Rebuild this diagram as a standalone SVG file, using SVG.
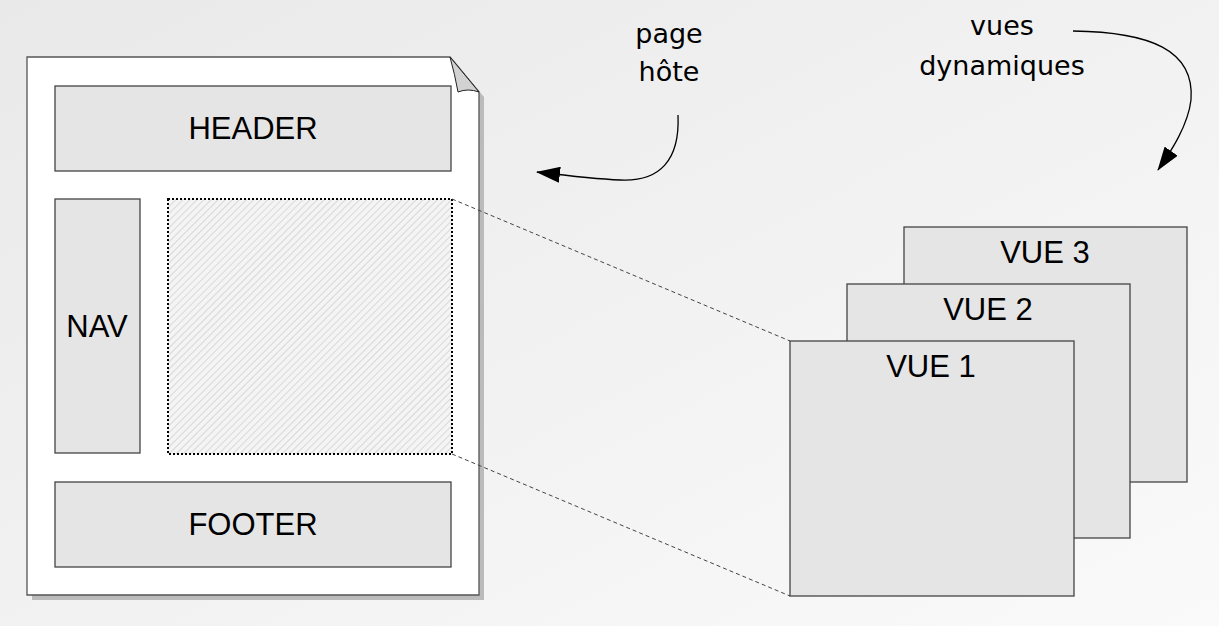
<svg xmlns="http://www.w3.org/2000/svg" width="1219" height="626" viewBox="0 0 1219 626">
<defs>
<linearGradient id="bg" x1="0" y1="0" x2="1" y2="1">
<stop offset="0" stop-color="#e9e9e9"/>
<stop offset="1" stop-color="#fafafa"/>
</linearGradient>
<pattern id="hatch" width="5" height="5" patternUnits="userSpaceOnUse" patternTransform="rotate(45)">
<rect width="5" height="5" fill="#f4f4f4"/>
<line x1="0" y1="0" x2="0" y2="5" stroke="#bdbdbd" stroke-width="1"/>
</pattern>
<marker id="arr" viewBox="0 0 24 16" refX="23" refY="8" markerWidth="24" markerHeight="16" markerUnits="userSpaceOnUse" orient="auto">
<path d="M0,0 L24,8 L0,16 Z" fill="#000"/>
</marker>
</defs>
<style>
.box{fill:#e5e5e5;stroke:#444;stroke-width:1.3}
.lbl{font-family:"Liberation Sans",Arial,sans-serif;font-size:31px;fill:#000;text-anchor:middle}
.hand{font-family:"DejaVu Sans","Noto Sans",sans-serif;font-size:27px;fill:#000;text-anchor:middle}
.conn{fill:none;stroke:#000;stroke-width:1.3}
.dash{fill:none;stroke:#444;stroke-width:1;stroke-dasharray:4,3}
</style>
<rect width="1219" height="626" fill="url(#bg)"/>
<g id="page">
<path d="M32,62 H455 L484,97 V600 H32 Z" fill="#bbbbbb"/>
<path d="M27,57 H450 L479,92 V595 H27 Z" fill="#fff" stroke="#555" stroke-width="1.3"/>
<path d="M450,57 Q455,75 458,92 Q468,88 479,92 Z" fill="#d2d2d2" stroke="#222" stroke-width="1"/>
</g>
<g id="header">
<rect class="box" x="55" y="86" width="396" height="85"/>
<text class="lbl" x="253" y="139">HEADER</text>
</g>
<g id="nav">
<rect class="box" x="55" y="199" width="85" height="254"/>
<text class="lbl" x="97" y="337">NAV</text>
</g>
<g id="content">
<rect x="168" y="199" width="284" height="255" fill="url(#hatch)" stroke="#000" stroke-width="2" stroke-dasharray="2,2"/>
</g>
<g id="footer">
<rect class="box" x="55" y="482" width="396" height="85"/>
<text class="lbl" x="253" y="535">FOOTER</text>
</g>
<g id="vue3">
<rect class="box" x="904" y="227" width="283" height="255"/>
<text class="lbl" x="1045" y="263">VUE 3</text>
</g>
<g id="vue2">
<rect class="box" x="847" y="284" width="283" height="254"/>
<text class="lbl" x="988" y="320">VUE 2</text>
</g>
<g id="vue1">
<rect class="box" x="790" y="341" width="284" height="255"/>
<text class="lbl" x="931" y="377">VUE 1</text>
</g>
<g id="label-page-hote">
<text class="hand" x="669" y="43">page</text>
<text class="hand" x="669" y="81">hôte</text>
</g>
<g id="label-vues">
<text class="hand" x="1002" y="35">vues</text>
<text class="hand" x="1002" y="75">dynamiques</text>
</g>
<g id="connectors">
<line class="dash" x1="452" y1="199" x2="790" y2="341"/>
<line class="dash" x1="452" y1="454" x2="790" y2="596"/>
<path class="conn" d="M678,115 C680,160 660,182 620,180 C595,179 570,176 537,172" marker-end="url(#arr)"/>
<path class="conn" d="M1073,31 C1150,32 1195,50 1191,100 C1188,125 1172,150 1158,170" marker-end="url(#arr)"/>
</g>
</svg>
